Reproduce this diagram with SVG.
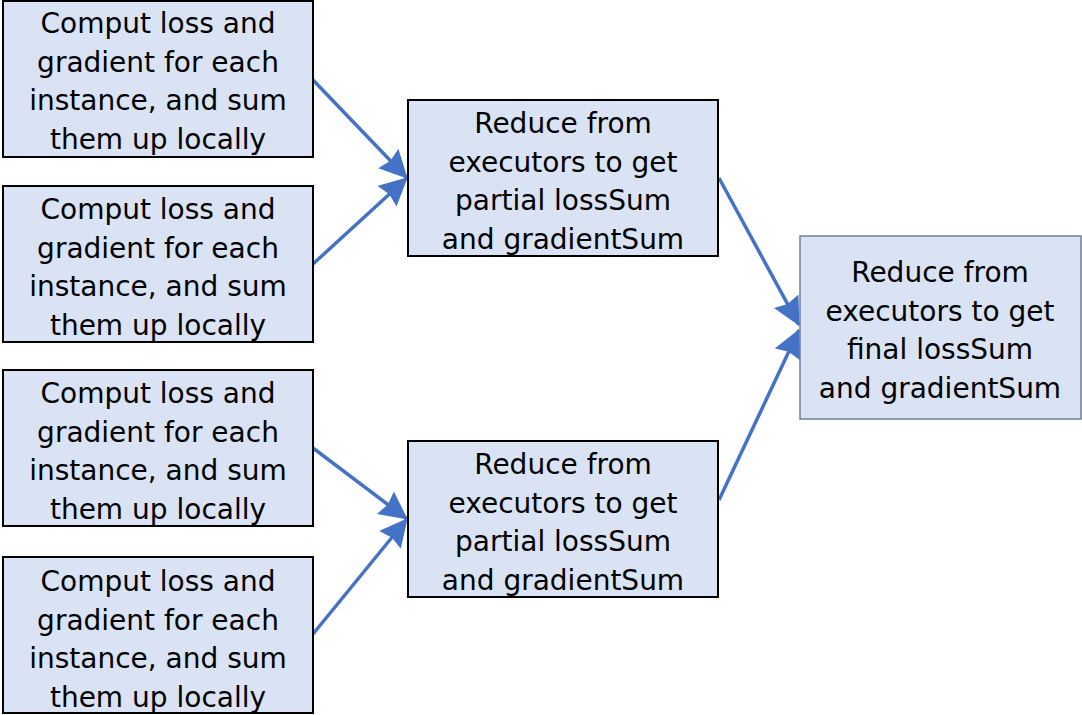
<svg xmlns="http://www.w3.org/2000/svg" width="1082" height="715" viewBox="0 0 1082 715">
  <style>
    .box { fill: #dae3f3; stroke: #000000; stroke-width: 2; }
    .final { fill: #dae3f3; stroke: #6f7d94; stroke-width: 1.5; }
    .label { font-family: "DejaVu Sans", "Liberation Sans", sans-serif; font-size: 28px; fill: #000000; text-anchor: middle; }
    .edge { stroke: #4472c4; stroke-width: 3.5; fill: none; marker-end: url(#head); }
  </style>
  <defs>
    <marker id="head" viewBox="0 0 28 28" refX="27" refY="14" markerWidth="28" markerHeight="28" markerUnits="userSpaceOnUse" orient="auto">
      <path d="M0,0 L28,14 L0,28 L3,14 Z" fill="#4472c4"/>
    </marker>
  </defs>

  <rect width="1082" height="715" fill="#ffffff"/>

  <!-- connectors -->
  <g id="connectors">
    <line class="edge" x1="313" y1="80" x2="407" y2="178"/>
    <line class="edge" x1="313" y1="264" x2="407" y2="178"/>
    <line class="edge" x1="313" y1="448" x2="407" y2="519"/>
    <line class="edge" x1="313" y1="634" x2="407" y2="519"/>
    <line class="edge" x1="719" y1="178" x2="799" y2="325"/>
    <line class="edge" x1="719" y1="500" x2="799" y2="330"/>
  </g>

  <!-- local compute nodes -->
  <g id="local1">
    <rect class="box" x="3" y="1" width="310" height="156"/>
    <text class="label" x="158" y="33"><tspan x="158">Comput loss and</tspan><tspan x="158" dy="38.5">gradient for each</tspan><tspan x="158" dy="38.5">instance, and sum</tspan><tspan x="158" dy="38.5">them up locally</tspan></text>
  </g>
  <g id="local2">
    <rect class="box" x="3" y="186" width="310" height="156"/>
    <text class="label" x="158" y="219"><tspan x="158">Comput loss and</tspan><tspan x="158" dy="38.5">gradient for each</tspan><tspan x="158" dy="38.5">instance, and sum</tspan><tspan x="158" dy="38.5">them up locally</tspan></text>
  </g>
  <g id="local3">
    <rect class="box" x="3" y="370" width="310" height="156"/>
    <text class="label" x="158" y="403"><tspan x="158">Comput loss and</tspan><tspan x="158" dy="38.5">gradient for each</tspan><tspan x="158" dy="38.5">instance, and sum</tspan><tspan x="158" dy="38.5">them up locally</tspan></text>
  </g>
  <g id="local4">
    <rect class="box" x="3" y="557" width="310" height="156"/>
    <text class="label" x="158" y="591"><tspan x="158">Comput loss and</tspan><tspan x="158" dy="38.5">gradient for each</tspan><tspan x="158" dy="38.5">instance, and sum</tspan><tspan x="158" dy="38.5">them up locally</tspan></text>
  </g>

  <!-- partial reduce nodes -->
  <g id="partial1">
    <rect class="box" x="408" y="100" width="310" height="156"/>
    <text class="label" x="563" y="133"><tspan x="563">Reduce from</tspan><tspan x="563" dy="38.5">executors to get</tspan><tspan x="563" dy="38.5">partial lossSum</tspan><tspan x="563" dy="38.5">and gradientSum</tspan></text>
  </g>
  <g id="partial2">
    <rect class="box" x="408" y="441" width="310" height="156"/>
    <text class="label" x="563" y="474"><tspan x="563">Reduce from</tspan><tspan x="563" dy="38.5">executors to get</tspan><tspan x="563" dy="38.5">partial lossSum</tspan><tspan x="563" dy="38.5">and gradientSum</tspan></text>
  </g>

  <!-- final reduce node -->
  <g id="final">
    <rect class="final" x="800" y="236" width="281" height="183"/>
    <text class="label" x="940" y="282"><tspan x="940">Reduce from</tspan><tspan x="940" dy="38.5">executors to get</tspan><tspan x="940" dy="38.5">final lossSum</tspan><tspan x="940" dy="38.5">and gradientSum</tspan></text>
  </g>
</svg>
